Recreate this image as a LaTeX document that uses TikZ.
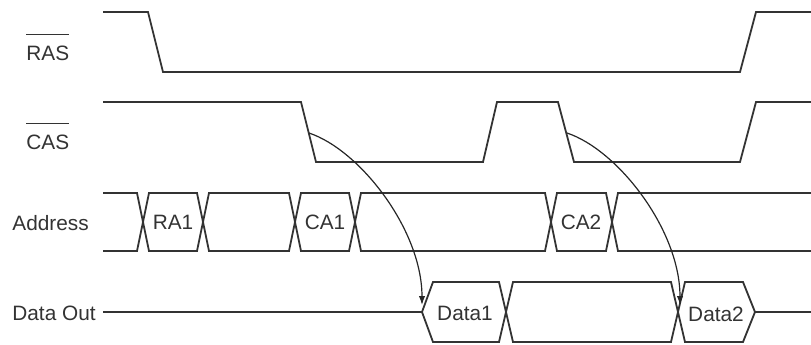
\documentclass[tikz,border=0pt]{standalone}
\usepackage{fontspec}
\setmainfont{Liberation Sans}
\usepackage{tikz}
\usetikzlibrary{positioning, arrows.meta}

\newcommand{\ovl}[1]{$\overline{\rule{0pt}{1.08em}\mbox{#1}}$}

\begin{document}
\begin{tikzpicture}[
    % Define common styles
        x=0.5pt, y=-0.5pt,
        wave/.style={draw=black!80, line width=0.9pt, line join=miter},
        signame/.style={anchor=west, inner sep=0pt, text=black!80, font=\fontsize{10.4pt}{12pt}\selectfont},
        buslabel/.style={inner sep=0pt, text=black!80, font=\fontsize{10.4pt}{12pt}\selectfont},
        arrow/.style={-{Latex[length=4.5pt, width=3.2pt]}, draw=black!85, line width=0.6pt}
    ]
        \useasboundingbox (0,0) rectangle (811,344);

        % Signal names
        \node[signame] (ras) at (26,47) {\ovl{RAS}};
        \node[signame] (cas) at (26,136) {\ovl{CAS}};
        \node[signame] (address) at (12,223) {Address};
        \node[signame] (dataout) at (12,313) {Data Out};

        % RAS and CAS waveforms
        \draw[wave] (103,12) -- (148,12) -- (163,72) -- (740,72) -- (756,12) -- (811,12);
        \draw[wave] (103,102) -- (301,102) -- (316,162) -- (483,162) -- (497,102)
            -- (558,102) -- (574,162) -- (740,162) -- (756,102) -- (811,102);

        % Address bus
        \draw[wave] (103,193) -- (137,193) -- (149,251) -- (197,251) -- (209,193) -- (289,193)
            -- (301,251) -- (349,251) -- (361,193) -- (545,193) -- (557,251) -- (606,251)
            -- (618,193) -- (811,193);
        \draw[wave] (103,251) -- (137,251) -- (149,193) -- (197,193) -- (209,251) -- (289,251)
            -- (301,193) -- (349,193) -- (361,251) -- (545,251) -- (557,193) -- (606,193)
            -- (618,251) -- (811,251);
        \node[buslabel] (ra1) at (173,222) {RA1};
        \node[buslabel] (ca1) at (325,222) {CA1};
        \node[buslabel] (ca2) at (581,222) {CA2};

        % Data out bus
        \draw[wave] (103,312) -- (422,312) -- (433,282) -- (499,282) -- (513,342) -- (671,342)
            -- (685,282) -- (743,282) -- (755,312) -- (811,312);
        \draw[wave] (422,312) -- (433,342) -- (499,342) -- (513,282) -- (671,282)
            -- (685,342) -- (743,342) -- (755,312);
        \node[buslabel] (data1) at (465,313) {Data1};
        \node[buslabel] (data2) at (716,314) {Data2};

        % Access arrows
        \coordinate (casfall1) at (309,133);
        \coordinate (casfall2) at (567,133);
        \coordinate (data1in) at (422,305);
        \coordinate (data2in) at (680,305);
        \draw[arrow] (casfall1) .. controls (360,150) and (422,230) .. (data1in);
        \draw[arrow] (casfall2) .. controls (618,150) and (680,230) .. (data2in);

    \end{tikzpicture}
\end{document}
